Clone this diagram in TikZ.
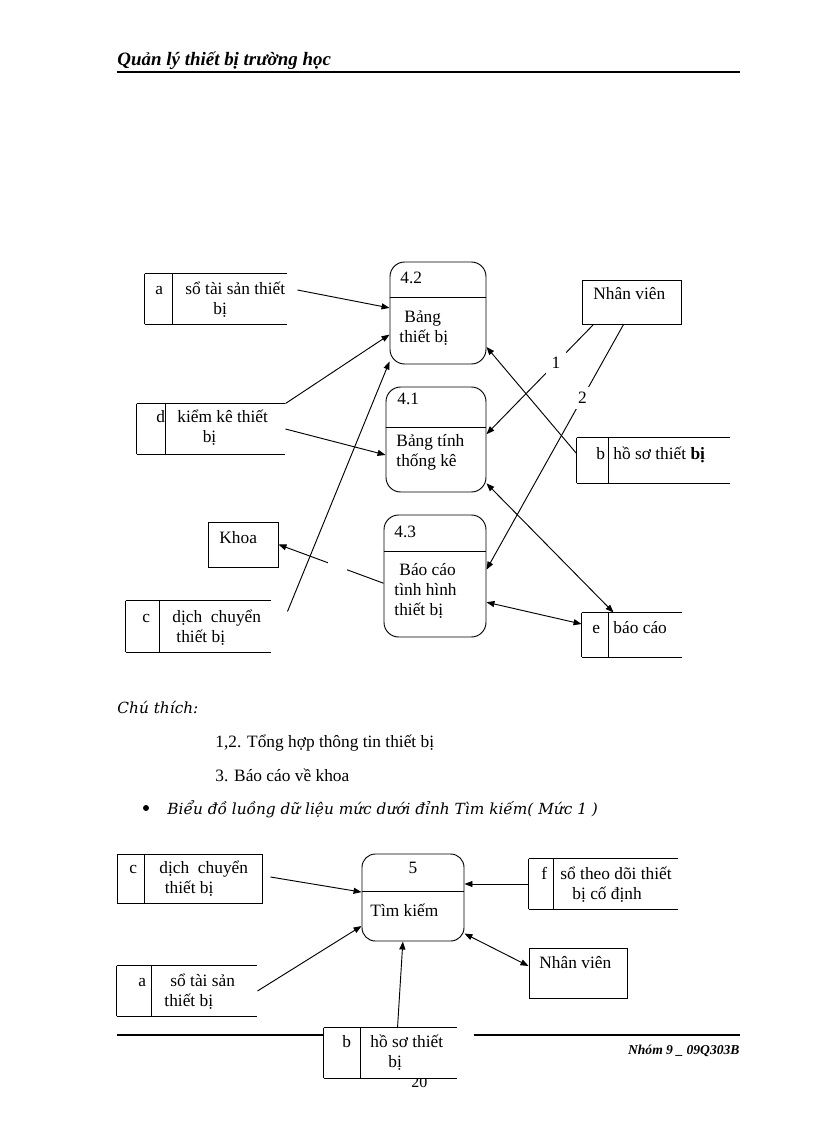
\documentclass[tikz,border=0pt]{standalone}
\usepackage{fontspec}
\setmainfont{Liberation Serif}
\newfontfamily\notefont{DejaVu Serif}
\usetikzlibrary{arrows.meta, calc}

\newcommand{\dfont}{\fontsize{13}{15}\selectfont}
\newcommand{\openstore}[2]{%
  \draw (#1.north west) -- (#1.north east) (#1.south west) -- (#1.south east)
        (#1.north west) -- (#1.south west)
        ([xshift=#2]#1.north west) -- ([xshift=#2]#1.south west);}

\begin{document}
\begin{tikzpicture}[
        x=0.75pt, y=-0.75pt, line width=0.7pt,
        proc/.style={draw, rounded corners=11pt, inner sep=0pt},
        store/.style={inner sep=0pt, fill=white},
        entity/.style={draw, inner sep=0pt},
        txt/.style={font=\dfont, inner sep=0pt, anchor=base west, align=left},
        tag/.style={font=\dfont, fill=white, inner sep=4pt},
        flow/.style={-{Triangle[length=6pt,width=4.5pt]}},
        twoway/.style={{Triangle[length=6pt,width=4.5pt]}-{Triangle[length=6pt,width=4.5pt]}}
    ]
    \useasboundingbox (0,0) rectangle (816,1123);

    % page header
    \node[anchor=base west, inner sep=0pt, font=\fontsize{14.2}{17}\selectfont\bfseries\itshape] (head) at (117,66) {Quản lý thiết bị trường học};
    \draw[line width=1.5pt] (117,72) -- (740,72);

    % processes of level 4
    \node[proc, minimum width=72pt, minimum height=76.5pt] (p42) at (438,313) {};
    \node[proc, minimum width=75pt, minimum height=78.75pt] (p41) at (436,439.5) {};
    \node[proc, minimum width=76.5pt, minimum height=91.5pt] (p43) at (435,576) {};
    \draw ($(p42.north west)+(0,36)$) -- ($(p42.north east)+(0,36)$);
    \draw ($(p41.north west)+(0,41)$) -- ($(p41.north east)+(0,41)$);
    \draw ($(p43.north west)+(0,37)$) -- ($(p43.north east)+(0,37)$);

    % stores and entities
    \node[store, minimum width=106.5pt, minimum height=37.5pt] (sa) at (216,299) {};
    \node[store, minimum width=111pt, minimum height=37.5pt] (sd) at (211,429) {};
    \node[store, minimum width=114.75pt, minimum height=33.75pt] (sb) at (653.5,460.5) {};
    \node[store, minimum width=108.75pt, minimum height=38.25pt] (sc) at (198.5,626.5) {};
    \node[store, minimum width=75pt, minimum height=33pt] (se) at (632,635) {};
    \openstore{sa}{21pt}
    \openstore{sd}{21.75pt}
    \openstore{sb}{24pt}
    \openstore{sc}{25.5pt}
    \openstore{se}{20.25pt}
    \node[entity, minimum width=74.25pt, minimum height=33pt] (nv1) at (631.5,302) {};
    \node[entity, minimum width=52.5pt, minimum height=33.75pt] (kh) at (243,544.5) {};

    % texts (multi-line texts sit on their last baseline)
    \node[txt] (t42id) at (400,283) {4.2};
    \node[txt] (t42) at (399,342) {\hspace*{3.75pt}Bảng\\thiết bị};
    \node[txt] (t41id) at (397,404) {4.1};
    \node[txt] (t41) at (396,466) {Bảng tính\\thống kê};
    \node[txt] (t43id) at (394,537) {4.3};
    \node[txt] (t43) at (394,615) {\hspace*{3.75pt}Báo cáo\\tình hình\\thiết bị};
    \node[txt] (taid) at (155,294) {a};
    \node[txt] (ta) at (185,314) {sổ tài sản thiết\\\hspace*{21pt}bị};
    \node[txt] (tdid) at (156,422) {d};
    \node[txt] (td) at (177,442) {kiểm kê thiết\\\hspace*{19pt}bị};
    \node[txt] (tbid) at (596,459) {b};
    \node[txt] (tb) at (613,459) {hồ sơ thiết \textbf{bị}};
    \node[txt] (tcid) at (142,622) {c};
    \node[txt] (tc) at (172,642) {dịch\ \ chuyển\\\hspace*{3pt}thiết bị};
    \node[txt] (teid) at (592,633) {e};
    \node[txt] (te) at (613,633) {báo cáo};
    \node[txt] (tnv1) at (593,299) {Nhân viên};
    \node[txt] (tkh) at (219,543) {Khoa};

    % flows of level 4
    \draw[flow] ($(sa.east)+(10,-9)$) -- (p42.174);
    \draw[flow] (sd.north east) -- (p42.204);
    \draw[flow] (sd.east) -- (p41.197);
    \draw[flow] ($(sc.north east)+(16,11)$) -- (p42.225);
    \draw[flow] (sb.west) ++(0,-7) -- (p42.-35);
    \draw[twoway] (p41.-41) -- ($(se.north west)+(32,0)$);
    \draw[twoway] (p43.-27) -- ($(se.west)+(0,-11)$);
    \draw[flow] (p43.188) -- node[tag, pos=0.44] (gap3) {\phantom{3}} (kh.east);
    \draw[flow] ($(nv1.south west)+(12,0)$) -- node[tag, pos=0.35] (lab1) {1} (p41.6);
    \draw[flow] ($(nv1.south west)+(42,0)$) -- node[tag, pos=0.3] (lab2) {2} (p43.7);

    % notes
    \node[anchor=base west, inner sep=0pt, font=\notefont\fontsize{11.5}{14}\selectfont\itshape] (note) at (117,713) {Chú thích:};
    \node[txt] (note1) at (215,747) {1,2. Tổng hợp thông tin thiết bị};
    \node[txt] (note2) at (215,781) {3. Báo cáo về khoa};
    \node[circle, fill, inner sep=0pt, minimum size=4.5pt] (dot) at (146,808) {};
    \node[anchor=base west, inner sep=0pt, font=\notefont\fontsize{11.5}{14}\selectfont\itshape] (sub) at (167,814) {Biểu đồ luồng dữ liệu mức dưới đỉnh Tìm kiếm( Mức 1 )};

    % level 1 search diagram
    \node[proc, rounded corners=10pt, minimum width=76.5pt, minimum height=65.25pt] (p5) at (413,897.5) {};
    \draw ($(p5.north west)+(0,38)$) -- ($(p5.north east)+(0,38)$);
    \node[store, draw, minimum width=108.75pt, minimum height=36.75pt] (sc2) at (189.5,878.5) {};
    \draw ([xshift=21pt]sc2.north west) -- ([xshift=21pt]sc2.south west);
    \node[store, minimum width=105pt, minimum height=37.5pt] (sa2) at (187,991) {};
    \node[store, minimum width=111.75pt, minimum height=37.5pt] (sf) at (603.5,884) {};
    \openstore{sa2}{26.25pt}
    \openstore{sf}{18.75pt}
    \node[entity, minimum width=73.5pt, minimum height=37.5pt] (nv2) at (578,973) {};

    % page footer
    \draw[line width=1.5pt] (117,1035) -- (324,1035);
    \draw[line width=1.5pt] (474,1035) -- (740,1035);
    \node[anchor=base east, inner sep=0pt, font=\fontsize{10.2}{12}\selectfont\bfseries\itshape] (foot) at (740,1054) {Nhóm 9 \_ 09Q303B};
    \node[anchor=base west, inner sep=0pt, font=\fontsize{12}{14}\selectfont] (pageno) at (411,1087) {20};
    \node[store, minimum width=99.75pt, minimum height=37.5pt] (sb2) at (390.5,1053) {};
    \openstore{sb2}{27.75pt}

    \node[txt, anchor=base] (t5id) at (413,873) {5};
    \node[txt] (t5) at (370,916) {Tìm kiếm};
    \node[txt] (tc2id) at (129,873) {c};
    \node[txt] (tc2) at (159,893) {dịch\ \ chuyển\\\hspace*{4pt}thiết bị};
    \node[txt] (ta2id) at (138,986) {a};
    \node[txt] (ta2) at (164,1006) {\hspace*{4.5pt}sổ tài sản\\thiết bị};
    \node[txt] (tfid) at (541,879) {f};
    \node[txt] (tf) at (560,899) {sổ theo dõi thiết\\\hspace*{9pt}bị cố định};
    \node[txt] (tnv2) at (539,968) {Nhân viên};
    \node[txt] (tb2id) at (342,1047) {b};
    \node[txt] (tb2) at (370,1067) {hồ sơ thiết\\\hspace*{13.5pt}bị};

    % flows of level 1
    \draw[flow] ($(sc2.east)+(8,-1.5)$) -- (p5.174);
    \draw[flow] (sa2.east) -- (p5.209);
    \draw[flow] ($(sb2.north west)+(74,0)$) -- (p5.257);
    \draw[flow] (sf.west) -- (sf.west -| p5.east);
    \draw[twoway] (p5.-35) -- ($(nv2.west)+(0,-7)$);
\end{tikzpicture}
\end{document}
